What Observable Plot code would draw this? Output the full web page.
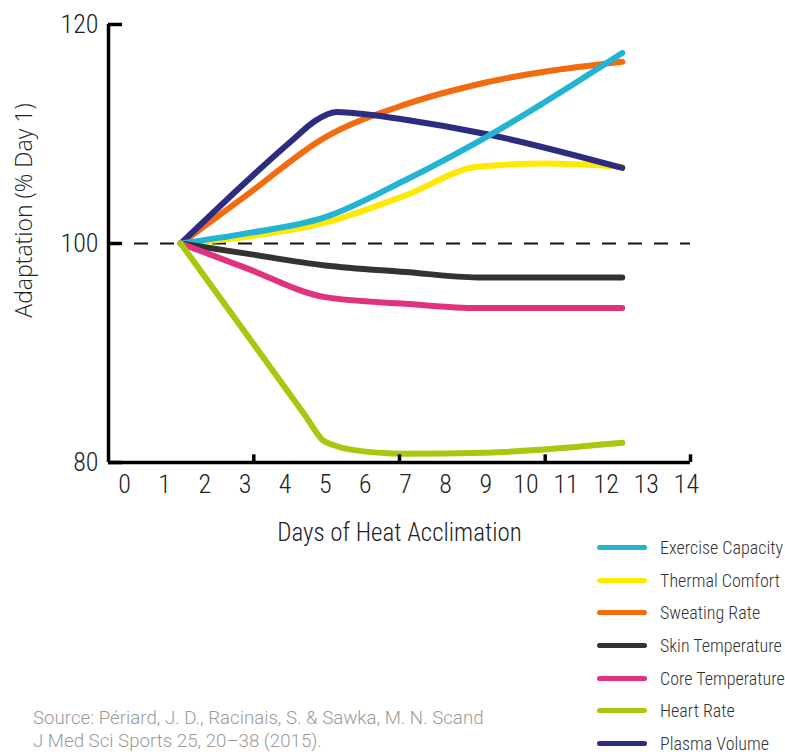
<!DOCTYPE html>
<html><head><meta charset="utf-8">
<script src="https://cdn.jsdelivr.net/npm/d3@7"></script>
<script src="https://cdn.jsdelivr.net/npm/@observablehq/plot@0.6"></script>
<style>
body{margin:0;background:#fff;font-family:Roboto,sans-serif;}
#wrap{position:relative;width:785px;height:752px;overflow:hidden;}
#chart{position:absolute;left:0;top:0;}
#legend{position:absolute;left:597px;top:531px;}
.item{display:flex;align-items:center;height:32.7px;}
.sw{width:50px;height:5px;border-radius:3px;margin-right:13px;}
.lab{font-family:"Roboto Condensed","Liberation Sans Narrow",Roboto,sans-serif;font-size:18px;font-weight:300;color:#333;white-space:nowrap;}
#source{position:absolute;left:33px;top:707px;font-size:18.7px;font-weight:300;color:#9a9a9a;line-height:23px;white-space:nowrap;}
</style></head><body>
<div id="wrap"><div id="chart"></div><div id="legend"></div>
<div id="source">Source: Périard, J. D., Racinais, S. &amp; Sawka, M. N. Scand<br>J Med Sci Sports 25, 20–38 (2015).</div></div>
<script>
const names = ["Exercise Capacity","Thermal Comfort","Sweating Rate","Skin Temperature","Core Temperature","Heart Rate","Plasma Volume"];
const colors = ["#22b4d2","#ffe900","#f26b0e","#333333","#e0327e","#a8c70f","#2c2d80"];

const exerciseDays = [1.4, 3, 5, 7, 9, 12.4];
const exerciseVals = [100, 100.9, 102.4, 105.8, 109.7, 117.4];
const thermalDays = [1.4, 3, 5, 7, 8.8, 10.5, 12.4];
const thermalVals = [100, 100.6, 101.9, 104.4, 107.0, 107.3, 107.0];
const sweatDays = [1.4, 3, 5, 7, 9, 12.4];
const sweatVals = [100, 104.3, 109.7, 112.7, 114.7, 116.6];
const skinDays = [1.4, 3, 5, 7, 8.8, 12.4];
const skinVals = [100, 99.1, 98.0, 97.4, 96.9, 96.9];
const coreDays = [1.4, 3, 5, 7, 8.8, 12.4];
const coreVals = [100, 97.8, 95.1, 94.5, 94.1, 94.1];
const heartDays = [1.4, 4.5, 4.95, 5.2, 5.6, 7, 9, 12.4];
const heartVals = [100, 84.3, 82.0, 81.6, 81.2, 80.8, 80.9, 81.8];
const plasmaDays = [1.4, 4.2, 4.75, 5.3, 6, 7, 9, 12.4];
const plasmaVals = [100, 109.5, 111.2, 112.0, 111.8, 111.3, 110.0, 106.9];

const xTickLabels = [0,1,2,3,4,5,6,7,8,9,10,11,12,13,14];
const yTickLabels = [80,100,120];
const xTickMarks = [3.22, 6.85, 10.48, 14.1];
const xTitle = "Days of Heat Acclimation";
const yTitle = "Adaptation (% Day 1)";

const seriesDays = {"Exercise Capacity":exerciseDays,"Thermal Comfort":thermalDays,"Sweating Rate":sweatDays,"Skin Temperature":skinDays,"Core Temperature":coreDays,"Heart Rate":heartDays,"Plasma Volume":plasmaDays};
const seriesVals = {"Exercise Capacity":exerciseVals,"Thermal Comfort":thermalVals,"Sweating Rate":sweatVals,"Skin Temperature":skinVals,"Core Temperature":coreVals,"Heart Rate":heartVals,"Plasma Volume":plasmaVals};
const drawOrder = ["Thermal Comfort","Sweating Rate","Plasma Volume","Exercise Capacity","Skin Temperature","Core Temperature","Heart Rate"];
const data = drawOrder.flatMap(n => seriesDays[n].map((d,i) => ({name:n, day:d, value:seriesVals[n][i]})));

const condensed = "'Roboto Condensed', 'Liberation Sans Narrow', Roboto, sans-serif";
const xMin = -0.4, xMax = 14.1;
const chart = Plot.plot({
  width: 785, height: 560,
  marginLeft: 108, marginRight: 95, marginTop: 24, marginBottom: 98,
  style: {fontFamily: condensed, color: "#222", background: "transparent"},
  x: {domain: [xMin, xMax]},
  y: {domain: [80, 120]},
  color: {domain: names, range: colors},
  marks: [
    Plot.axisX({ticks: xTickLabels, tickSize: 0, tickPadding: 12, fontSize: 26, fontWeight: 300, label: null}),
    Plot.axisX({ticks: [], tickSize: 0, fontSize: 25, fontWeight: 300,
      label: xTitle, labelAnchor: "center", labelOffset: 78, labelArrow: "none"}),
    Plot.axisY({ticks: yTickLabels, tickSize: 0, tickPadding: 10, fontSize: 26, fontWeight: 300, label: null}),
    Plot.text([yTitle], {text: d => d, frameAnchor: "left", textAnchor: "middle", lineAnchor: "middle", rotate: -90, dx: -84, dy: -33,
      fontSize: 23, fontWeight: 300, fontFamily: "'Open Sans', sans-serif", fill: "#222"}),
    Plot.ruleY([100], {x1: xMin, x2: xMax, stroke: "#111", strokeWidth: 2, strokeDasharray: "14,12"}),
    Plot.line(data, {x: "day", y: "value", z: "name", stroke: "name", curve: "monotone-x", strokeWidth: 6, strokeLinecap: "round", strokeLinejoin: "round"}),
    Plot.ruleX([xMin], {y1: 80, y2: 120, stroke: "#000", strokeWidth: 3.5}),
    Plot.ruleY([80], {x1: xMin, x2: xMax, stroke: "#000", strokeWidth: 3.5}),
    Plot.ruleY(yTickLabels, {x1: xMin, x2: -0.05, stroke: "#000", strokeWidth: 3.5}),
    Plot.ruleX(xTickMarks, {y1: 80, y2: 80.7, stroke: "#000", strokeWidth: 3.5})
  ]
});
document.getElementById("chart").appendChild(chart);

const leg = document.getElementById("legend");
names.forEach((n,i) => {
  const it = document.createElement("div"); it.className = "item";
  const sw = document.createElement("div"); sw.className = "sw"; sw.style.background = colors[i];
  const lb = document.createElement("div"); lb.className = "lab"; lb.textContent = n;
  it.appendChild(sw); it.appendChild(lb); leg.appendChild(it);
});
</script></body></html>
